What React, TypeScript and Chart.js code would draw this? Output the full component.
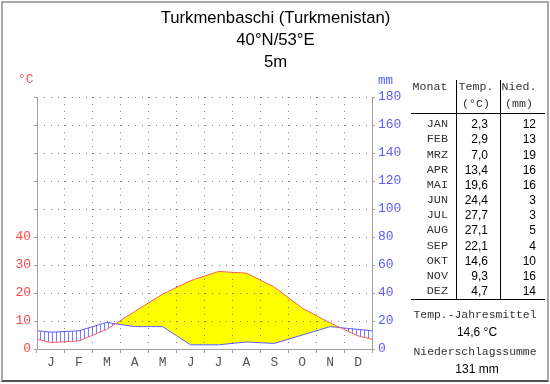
import React, { useEffect, useRef } from 'react';
import { Chart, registerables } from 'chart.js';

Chart.register(...registerables);

const monthLetters = ['J', 'F', 'M', 'A', 'M', 'J', 'J', 'A', 'S', 'O', 'N', 'D'];
const monthNames = ['JAN', 'FEB', 'MRZ', 'APR', 'MAI', 'JUN', 'JUL', 'AUG', 'SEP', 'OKT', 'NOV', 'DEZ'];
const temps = [2.3, 2.9, 7.0, 13.4, 19.6, 24.4, 27.7, 27.1, 22.1, 14.6, 9.3, 4.7];
const precip = [12, 13, 19, 16, 16, 3, 3, 5, 4, 10, 16, 14];
const titleLines = ['Turkmenbaschi (Turkmenistan)', '40°N/53°E', '5m'];
const meanTempText = '14,6 °C';
const totalPrecipText = '131 mm';
const tempLabelMax = 40;

const MONO = '"Liberation Mono", "DejaVu Sans Mono", monospace';
const SANS = '"Liberation Sans", Arial, sans-serif';
const GRID = '#808080';
const AXIS = '#a0a0a0';
const NONE = 'rgba(0,0,0,0)';

function wrapSeries(values: number[]) {
  const pts = values.map((v, i) => ({ x: i + 0.5, y: v }));
  return [{ x: -0.5, y: values[values.length - 1] }, ...pts, { x: values.length + 0.5, y: values[0] }];
}

function fmt(v: number) {
  return v.toFixed(1).replace('.', ',');
}

type LabelProps = {
  text: string;
  x: number;
  y: number;
  align: 'left' | 'right' | 'center';
  font: string;
  size: number;
  color: string;
};

function Label({ text, x, y, align, font, size, color }: LabelProps) {
  const h = Math.round(size * 2);
  const w = 300;
  let left = x;
  if (align === 'center') left = x - w / 2;
  if (align === 'right') left = x - w;
  return (
    <div
      style={{
        position: 'absolute',
        left,
        top: y - h / 2,
        width: w,
        height: h,
        lineHeight: h + 'px',
        textAlign: align,
        fontFamily: font,
        fontSize: size,
        color,
        whiteSpace: 'pre',
      }}
    >
      {text}
    </div>
  );
}

const axisLinesPlugin = {
  id: 'axisLines',
  afterDraw(chart: any) {
    const { ctx, chartArea } = chart;
    const l = Math.round(chartArea.left) + 0.5;
    const b = Math.round(chartArea.bottom) + 0.5;
    const r = Math.round(chartArea.right) + 0.5;
    ctx.save();
    ctx.strokeStyle = AXIS;
    ctx.lineWidth = 1;
    ctx.setLineDash([]);
    ctx.beginPath();
    ctx.moveTo(l, Math.round(chartArea.top));
    ctx.lineTo(l, b);
    ctx.lineTo(r, b);
    ctx.stroke();
    ctx.restore();
  },
};

function ClimateChart() {
  const ref = useRef<HTMLCanvasElement | null>(null);
  useEffect(() => {
    const canvas = ref.current;
    if (!canvas) return;
    const pc = document.createElement('canvas');
    pc.width = 4;
    pc.height = 1;
    const pg = pc.getContext('2d')!;
    pg.fillStyle = '#7a7aff';
    pg.fillRect(0, 0, 1, 1);
    const hatch = pg.createPattern(pc, 'repeat');

    const chart = new Chart(canvas, {
      type: 'line',
      data: {
        datasets: [
          {
            label: 'Temp',
            data: wrapSeries(temps),
            yAxisID: 'y',
            borderColor: '#ff5c5c',
            borderWidth: 1,
            pointRadius: 0,
            tension: 0,
            fill: { target: 1, above: '#ffff00', below: hatch as any },
          },
          {
            label: 'Nied',
            data: wrapSeries(precip),
            yAxisID: 'y2',
            borderColor: '#5c5cff',
            borderWidth: 1,
            pointRadius: 0,
            tension: 0,
            fill: false,
          },
        ],
      },
      plugins: [axisLinesPlugin],
      options: {
        animation: false,
        responsive: false,
        devicePixelRatio: 1,
        layout: { padding: { top: 97, left: 0, right: 0, bottom: 0 } },
        plugins: {
          legend: { display: false },
          tooltip: { enabled: false },
          filler: { drawTime: 'beforeDatasetsDraw' },
        },
        events: [],
        scales: {
          x: {
            type: 'linear',
            min: 0,
            max: 12,
            position: 'bottom',
            afterBuildTicks: (scale: any) => {
              scale.ticks = monthLetters.map((_, i) => ({ value: i + 0.5 }));
            },
            afterFit: (scale: any) => {
              scale.height = 35;
            },
            ticks: {
              autoSkip: false,
              maxRotation: 0,
              padding: 2,
              color: '#555555',
              font: { family: MONO, size: 13 },
              callback: (_v: any, i: number) => monthLetters[i],
            },
            grid: {
              offset: true,
              color: (c: any) => (c.type !== 'tick' || c.index === 0 ? NONE : GRID),
              lineWidth: 1,
              tickLength: 4,
              tickColor: AXIS,
              tickBorderDash: [],
              z: 1,
            },
            border: { display: false, color: AXIS, dash: [1, 6] },
          },
          y: {
            type: 'linear',
            position: 'left',
            min: 0,
            max: 90,
            afterFit: (scale: any) => {
              scale.width = 37;
            },
            ticks: {
              stepSize: 10,
              padding: 3,
              color: '#ff4a4a',
              font: { family: MONO, size: 13 },
              callback: (v: any) => (Number(v) <= tempLabelMax ? String(v) : ''),
            },
            grid: {
              color: (c: any) => (c.type === 'tick' && c.index === 0 ? NONE : GRID),
              lineWidth: 1,
              tickLength: 3,
              tickColor: AXIS,
              tickBorderDash: [],
              z: 1,
            },
            border: { display: false, color: AXIS, dash: [1, 6] },
          },
          y2: {
            type: 'linear',
            position: 'right',
            min: 0,
            max: 180,
            afterFit: (scale: any) => {
              scale.width = 38;
            },
            ticks: {
              stepSize: 20,
              padding: 3,
              color: '#5a5aff',
              font: { family: MONO, size: 13 },
            },
            grid: {
              drawOnChartArea: false,
              tickLength: 3,
              tickColor: AXIS,
            },
            border: { color: AXIS },
          },
        },
      },
    });
    return () => chart.destroy();
  }, []);
  return (
    <canvas
      ref={ref}
      width={410}
      height={384}
      style={{ position: 'absolute', left: 0, top: 0, width: 410, height: 384 }}
    />
  );
}

export default function App() {
  const rowY0 = 124.3;
  const rowDy = 15.15;
  return (
    <div
      style={{
        position: 'absolute',
        left: 0,
        top: 0,
        width: 550,
        height: 384,
        background: '#ffffff',
        overflow: 'hidden',
      }}
    >
      <ClimateChart />
      {titleLines.map((t, i) => (
        <Label key={'t' + i} text={t} x={275.5} y={17 + i * 22} align="center" font={SANS} size={16.7} color="#000" />
      ))}
      <Label text="°C" x={18} y={80} align="left" font={MONO} size={13} color="#ff4a4a" />
      <Label text="mm" x={378} y={81} align="left" font={MONO} size={12.5} color="#5a5aff" />

      {/* table lines */}
      <div style={{ position: 'absolute', left: 456, top: 80, width: 1, height: 220, background: '#000' }} />
      <div style={{ position: 'absolute', left: 500, top: 80, width: 1, height: 220, background: '#000' }} />
      <div style={{ position: 'absolute', left: 411, top: 113, width: 134, height: 1, background: '#000' }} />
      <div style={{ position: 'absolute', left: 411, top: 299, width: 134, height: 1, background: '#000' }} />

      <Label text="Monat" x={430} y={86} align="center" font={MONO} size={11.6} color="#333" />
      <Label text="Temp." x={476} y={86} align="center" font={MONO} size={11.6} color="#333" />
      <Label text="(°C)" x={476} y={103} align="center" font={MONO} size={11.6} color="#333" />
      <Label text="Nied." x={519} y={86} align="center" font={MONO} size={11.6} color="#333" />
      <Label text="(mm)" x={519} y={103} align="center" font={MONO} size={11.6} color="#333" />

      {monthNames.map((m, i) => (
        <React.Fragment key={m}>
          <Label text={m} x={448} y={rowY0 + i * rowDy} align="right" font={MONO} size={11.8} color="#333" />
          <Label text={fmt(temps[i])} x={488} y={rowY0 + i * rowDy} align="right" font={SANS} size={12} color="#000" />
          <Label text={String(precip[i])} x={536} y={rowY0 + i * rowDy} align="right" font={SANS} size={12} color="#000" />
        </React.Fragment>
      ))}

      <Label text="Temp.-Jahresmittel" x={475} y={315} align="center" font={MONO} size={11.4} color="#333" />
      <Label text={meanTempText} x={477} y={331.5} align="center" font={SANS} size={12} color="#000" />
      <Label text="Niederschlagssumme" x={475} y={352.5} align="center" font={MONO} size={11.4} color="#333" />
      <Label text={totalPrecipText} x={477} y={369} align="center" font={SANS} size={12} color="#000" />

      <div
        style={{
          position: 'absolute',
          left: 1,
          top: 1,
          width: 548,
          height: 381,
          boxSizing: 'border-box',
          borderTop: '2px solid #a8a8a8',
          borderLeft: '2px solid #a8a8a8',
          borderRight: '2px solid #a8a8a8',
          borderBottom: '2px solid #505050',
          pointerEvents: 'none',
        }}
      />
    </div>
  );
}
